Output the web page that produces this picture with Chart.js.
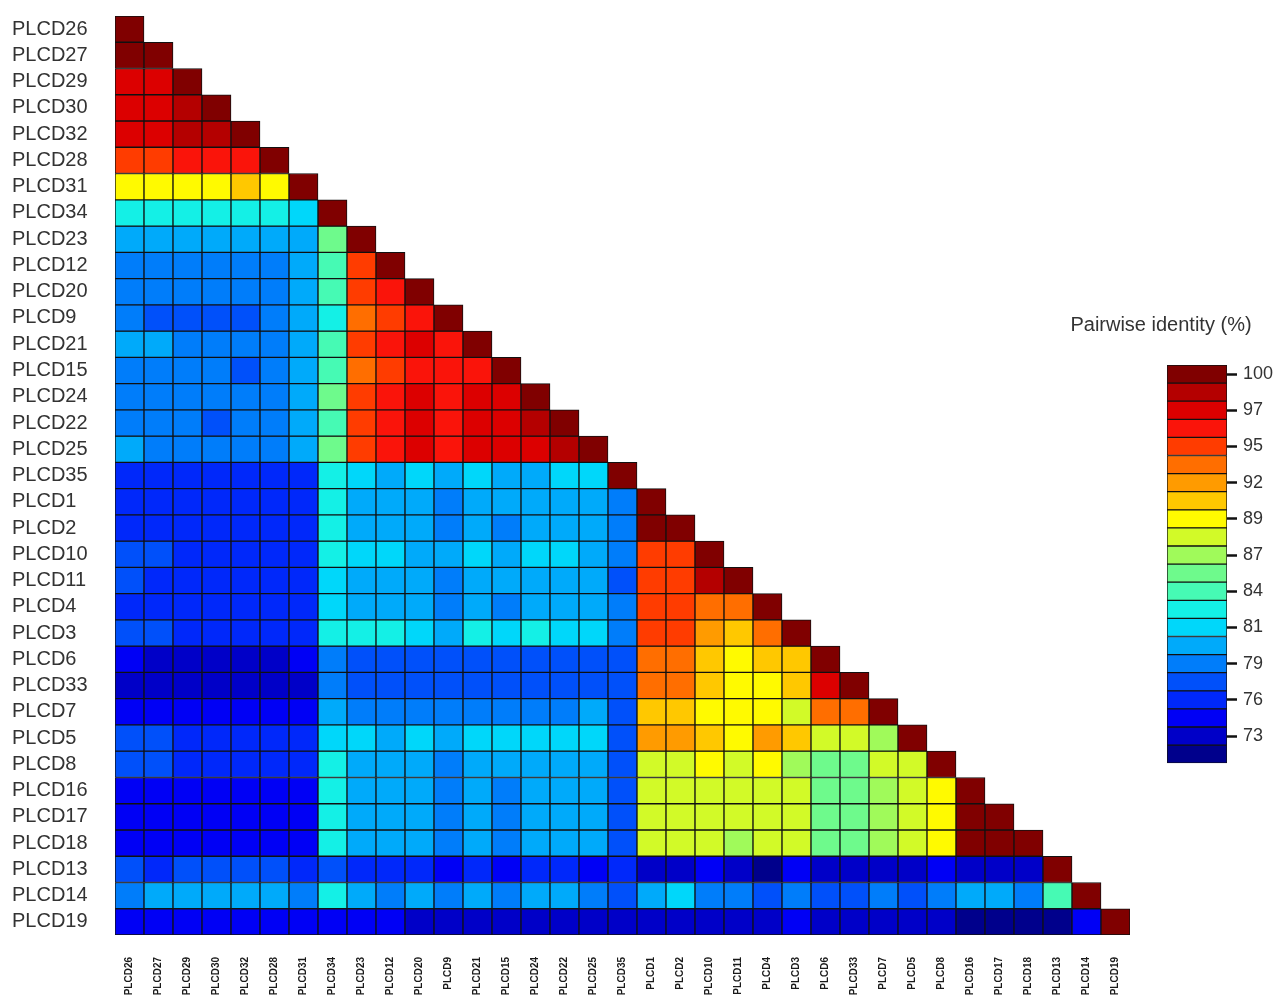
<!DOCTYPE html>
<html>
<head>
<meta charset="utf-8">
<title>Pairwise identity of PLCD sequences</title>
<script src="https://cdn.jsdelivr.net/npm/chart.js@4.4.0/dist/chart.umd.min.js"></script>
<style>
  html, body { margin: 0; padding: 0; background: #ffffff; }
  #wrap { position: relative; width: 1281px; height: 1001px; overflow: hidden; background: #ffffff; }
  #heat { position: absolute; left: 0; top: 0; }
  #scale { position: absolute; left: 1041px; top: 300px; }
</style>
</head>
<body>
<div id="wrap">
  <canvas id="heat" width="1281" height="1001"></canvas>
  <canvas id="scale" width="240" height="480"></canvas>
</div>
<script>
// Sequence order used for both rows and columns of the triangle
const genes = [
  'PLCD26','PLCD27','PLCD29','PLCD30','PLCD32','PLCD28','PLCD31','PLCD34','PLCD23',
  'PLCD12','PLCD20','PLCD9','PLCD21','PLCD15','PLCD24','PLCD22','PLCD25','PLCD35',
  'PLCD1','PLCD2','PLCD10','PLCD11','PLCD4','PLCD3','PLCD6','PLCD33','PLCD7',
  'PLCD5','PLCD8','PLCD16','PLCD17','PLCD18','PLCD13','PLCD14','PLCD19'
];

// Pairwise identity (%), lower triangle: row i holds columns 0..i
const identity = [
  [100],
  [99.6,100],
  [97.4,97.4,100],
  [97.4,97.4,98.7,100],
  [97.4,97.4,98.7,98.7,100],
  [94.7,94.7,96.0,96.0,96.0,100],
  [89.4,89.4,89.4,89.4,90.7,89.4,100],
  [82.7,82.7,82.7,82.7,82.7,82.7,81.4,100],
  [80.1,80.1,80.1,80.1,80.1,80.1,80.1,85.4,100],
  [78.7,78.7,78.7,78.7,78.7,78.7,80.1,84.0,94.7,100],
  [78.7,78.7,78.7,78.7,78.7,78.7,80.1,84.0,94.7,96.0,100],
  [78.7,77.4,77.4,77.4,77.4,78.7,80.1,82.7,93.4,94.7,96.0,100],
  [80.1,80.1,78.7,78.7,78.7,78.7,80.1,84.0,94.7,96.0,97.4,96.0,100],
  [78.7,78.7,78.7,78.7,77.4,78.7,80.1,84.0,93.4,94.7,96.0,96.0,96.0,100],
  [78.7,78.7,78.7,78.7,78.7,78.7,80.1,85.4,94.7,96.0,97.4,96.0,97.4,97.4,100],
  [78.7,78.7,78.7,77.4,78.7,78.7,80.1,84.0,94.7,96.0,97.4,96.0,97.4,97.4,98.7,100],
  [80.1,78.7,78.7,78.7,78.7,78.7,80.1,85.4,94.7,96.0,97.4,96.0,97.4,97.4,97.4,98.7,100],
  [76.1,76.1,76.1,76.1,76.1,76.1,76.1,82.7,81.4,80.1,81.4,80.1,81.4,80.1,80.1,81.4,81.4,100],
  [76.1,76.1,76.1,76.1,76.1,76.1,76.1,82.7,80.1,80.1,80.1,78.7,80.1,80.1,80.1,80.1,80.1,78.7,100],
  [76.1,76.1,76.1,76.1,76.1,76.1,76.1,82.7,80.1,80.1,80.1,78.7,80.1,78.7,80.1,80.1,80.1,78.7,99.6,100],
  [77.4,77.4,76.1,76.1,76.1,76.1,76.1,82.7,81.4,81.4,80.1,80.1,81.4,80.1,81.4,81.4,80.1,78.7,94.7,94.7,100],
  [77.4,76.1,76.1,76.1,76.1,76.1,76.1,81.4,80.1,80.1,80.1,78.7,80.1,80.1,80.1,80.1,80.1,77.4,94.7,94.7,98.7,100],
  [76.1,76.1,76.1,76.1,76.1,76.1,76.1,81.4,80.1,80.1,80.1,78.7,80.1,78.7,80.1,80.1,80.1,78.7,94.7,94.7,93.4,93.4,100],
  [77.4,77.4,76.1,76.1,76.1,76.1,76.1,82.7,82.7,82.7,81.4,80.1,82.7,81.4,82.7,81.4,81.4,78.7,94.7,94.7,92.0,90.7,93.4,100],
  [74.7,73.4,73.4,73.4,73.4,73.4,74.7,78.7,77.4,77.4,77.4,77.4,77.4,77.4,77.4,77.4,77.4,77.4,93.4,93.4,90.7,89.4,90.7,90.7,100],
  [73.4,73.4,73.4,73.4,73.4,73.4,73.4,78.7,77.4,77.4,77.4,77.4,77.4,77.4,77.4,77.4,77.4,77.4,93.4,93.4,90.7,89.4,89.4,90.7,97.4,100],
  [74.7,74.7,74.7,74.7,74.7,74.7,74.7,80.1,78.7,78.7,78.7,78.7,78.7,78.7,78.7,78.7,80.1,77.4,90.7,90.7,89.4,89.4,89.4,88.0,93.4,93.4,100],
  [77.4,77.4,76.1,76.1,76.1,76.1,76.1,81.4,81.4,80.1,81.4,80.1,81.4,81.4,81.4,81.4,81.4,77.4,92.0,92.0,90.7,89.4,92.0,90.7,88.0,88.0,86.7,100],
  [77.4,77.4,76.1,76.1,76.1,76.1,76.1,82.7,80.1,80.1,80.1,78.7,80.1,80.1,80.1,80.1,80.1,77.4,88.0,88.0,89.4,88.0,89.4,86.7,85.4,85.4,88.0,88.0,100],
  [74.7,74.7,74.7,74.7,74.7,74.7,74.7,82.7,80.1,80.1,80.1,78.7,80.1,78.7,80.1,80.1,80.1,77.4,88.0,88.0,88.0,88.0,88.0,88.0,85.4,85.4,86.7,88.0,89.4,100],
  [74.7,74.7,74.7,74.7,74.7,74.7,74.7,82.7,80.1,80.1,80.1,78.7,80.1,78.7,80.1,80.1,80.1,77.4,88.0,88.0,88.0,88.0,88.0,88.0,85.4,85.4,86.7,88.0,89.4,99.6,100],
  [74.7,74.7,74.7,74.7,74.7,74.7,74.7,82.7,80.1,80.1,80.1,78.7,80.1,78.7,80.1,80.1,80.1,77.4,88.0,88.0,88.0,86.7,88.0,88.0,85.4,85.4,86.7,88.0,89.4,99.6,99.6,100],
  [77.4,76.1,77.4,77.4,77.4,77.4,76.1,77.4,76.1,76.1,76.1,74.7,76.1,74.7,76.1,76.1,74.7,76.1,73.4,73.4,74.7,73.4,72.1,74.7,73.4,73.4,73.4,73.4,74.7,73.4,73.4,73.4,100],
  [78.7,80.1,80.1,80.1,80.1,80.1,78.7,82.7,80.1,78.7,80.1,78.7,80.1,78.7,80.1,80.1,78.7,77.4,80.1,81.4,78.7,78.7,77.4,78.7,77.4,77.4,78.7,77.4,78.7,80.1,80.1,78.7,84.0,100],
  [74.7,74.7,74.7,74.7,74.7,74.7,74.7,74.7,74.7,74.7,73.4,73.4,73.4,73.4,73.4,73.4,73.4,73.4,73.4,73.4,73.4,73.4,73.4,74.7,73.4,73.4,73.4,73.4,73.4,72.1,72.1,72.1,72.1,74.7,100]
];

// Colour key tick labels, top to bottom
const keyTickLabels = ['100','97','95','92','89','87','84','81','79','76','73'];

// Discrete jet-style palette, lowest identity first
const bandColors = [
  '#00008c','#0000c8','#0000f5','#0028fa','#0050fa','#007dfa','#00aafa','#00d7fa',
  '#14f0e6','#46fab4','#6efa8c','#a0fa5a','#d2fa28','#fffa00','#ffc800','#ff9b00',
  '#ff6e00','#ff3c00','#fa140a','#dc0000','#b40000','#800000'
];
const BAND_MIN = 71.4;
const BAND_STEP = 1.33;
const BAND_MAX = BAND_MIN + bandColors.length * BAND_STEP;

const FONT = "'Liberation Sans', Arial, Helvetica, sans-serif";
Chart.defaults.font.family = FONT;

function bandOf(v) {
  const k = Math.floor((v - BAND_MIN) / BAND_STEP);
  return Math.max(0, Math.min(bandColors.length - 1, k));
}

// One floating-bar dataset per row; each bar spans its row on the value axis
const heatDatasets = identity.map((row, i) => ({
  label: genes[i],
  data: genes.map((g, j) => (j < row.length ? [i, i + 1] : null)),
  backgroundColor: genes.map((g, j) => (j < row.length ? bandColors[bandOf(row[j])] : 'rgba(0,0,0,0)')),
  borderColor: '#111111',
  borderWidth: 1,
  borderSkipped: false,
  grouped: false,
  barPercentage: 1,
  categoryPercentage: 1
}));

new Chart(document.getElementById('heat'), {
  type: 'bar',
  data: { labels: genes, datasets: heatDatasets },
  options: {
    responsive: false,
    animation: false,
    devicePixelRatio: 1,
    layout: { padding: { left: 12, top: 16, right: 151, bottom: 0 } },
    plugins: { legend: { display: false }, tooltip: { enabled: false } },
    scales: {
      x: {
        type: 'category',
        grid: { display: false, drawTicks: false },
        border: { display: false },
        ticks: {
          autoSkip: false,
          minRotation: 90,
          maxRotation: 90,
          padding: 22,
          color: '#1a1a1a',
          font: { family: FONT, size: 10, weight: 'bold' }
        },
        afterFit: (s) => { s.height = 66; }
      },
      y: {
        type: 'linear',
        min: 0,
        max: genes.length,
        reverse: true,
        grid: { display: false, drawTicks: false },
        border: { display: false },
        afterBuildTicks: (s) => { s.ticks = genes.map((g, i) => ({ value: i + 0.5 })); },
        ticks: {
          autoSkip: false,
          crossAlign: 'far',
          padding: 0,
          color: '#333333',
          font: { family: FONT, size: 20 },
          callback: (v, i) => genes[i]
        },
        afterFit: (s) => { s.width = 103; }
      }
    }
  }
});

// Colour key: one floating bar per colour band
const keyDatasets = bandColors.map((c, k) => ({
  data: [[BAND_MIN + k * BAND_STEP, BAND_MIN + (k + 1) * BAND_STEP]],
  xAxisID: 'x',
  yAxisID: 'y',
  backgroundColor: c,
  borderColor: '#111111',
  borderWidth: 1,
  borderSkipped: false,
  grouped: false,
  barPercentage: 1,
  categoryPercentage: 1
}));

new Chart(document.getElementById('scale'), {
  type: 'bar',
  data: { labels: [''], datasets: keyDatasets },
  options: {
    responsive: false,
    animation: false,
    devicePixelRatio: 1,
    layout: { padding: { left: 0, top: 0, right: 0, bottom: 13 } },
    plugins: {
      legend: { display: false },
      tooltip: { enabled: false },
      title: {
        display: true,
        text: 'Pairwise identity (%)',
        color: '#333333',
        font: { family: FONT, size: 20, weight: 'normal' },
        padding: { top: 13, bottom: 28 }
      }
    },
    scales: {
      x: { display: false },
      y: {
        type: 'linear',
        position: 'right',
        min: BAND_MIN,
        max: BAND_MAX,
        grid: { drawOnChartArea: false, drawTicks: true, tickLength: 10, tickWidth: 2.5, tickColor: '#111111' },
        border: { display: false },
        afterBuildTicks: (s) => {
          s.ticks = keyTickLabels.map((t, n) => ({
            value: BAND_MIN + (bandColors.length - 1 - 2 * n + 0.5) * BAND_STEP
          }));
        },
        ticks: {
          autoSkip: false,
          padding: 6,
          color: '#333333',
          font: { family: FONT, size: 18 },
          callback: (v, i) => keyTickLabels[i]
        },
        afterFit: (s) => { s.width = 54; }
      },
      // empty spacer axis that keeps the key bar clear of the canvas' left side
      spacer: {
        type: 'linear',
        position: 'left',
        min: 0,
        max: 1,
        grid: { display: false, drawTicks: false },
        border: { display: false },
        ticks: { display: false },
        afterFit: (s) => { s.width = 126; }
      }
    }
  }
});
</script>
</body>
</html>
